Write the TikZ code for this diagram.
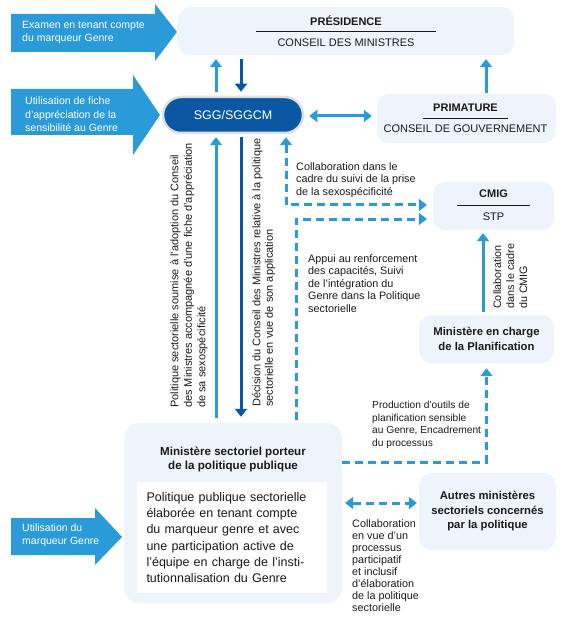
\documentclass[tikz,border=0pt]{standalone}
\usepackage{fontspec}
\setmainfont{Liberation Sans}
\usetikzlibrary{arrows.meta,calc}

\definecolor{lightblue}{HTML}{2A9BD8}
\definecolor{darkblue}{HTML}{0B57A4}
\definecolor{boxfill}{HTML}{EDF4FC}
\definecolor{txt}{HTML}{1A1A1A}

\tikzset{
    box/.style={fill=boxfill, rounded corners=12pt, minimum width=#1, inner sep=0pt},
    head/.style={font=\fontsize{11}{13}\selectfont\bfseries, text=txt, align=center},
    title/.style={font=\fontsize{11.3}{14.5}\selectfont\bfseries, text=txt, align=center},
    plain/.style={font=\fontsize{11}{13}\selectfont, text=txt, align=center},
    lbl/.style={font=\fontsize{10.8}{12.6}\selectfont, text=txt, align=left, inner sep=0pt, anchor=north west},
    big/.style={fill=lightblue},
    bigtxt/.style={font=\fontsize{10.5}{13.5}\selectfont, text=white, align=left, inner sep=0pt, anchor=west},
    tip/.tip={Triangle[width=12pt,length=8pt]},
    flow/.style={-tip, line width=3pt, lightblue},
    down/.style={-tip, line width=3pt, darkblue},
    dashline/.style={line width=3pt, lightblue, dash pattern=on 8pt off 5pt},
}

\newcommand{\jline}[1]{\makebox[171pt][s]{#1}}

\begin{document}
\begin{tikzpicture}[x=1pt,y=-1pt]
    \useasboundingbox (0,0) rectangle (563,628);

    % big arrows on the left
    \fill[big] (11,14) -- (155,14) -- (155,4) -- (177,32) -- (155,61) -- (155,52) -- (11,52) -- cycle;
    \node[bigtxt] (exam) at (22,32.5) {Examen en tenant compte\\du marqueur Genre};
    \fill[big] (11,89) -- (133,89) -- (133,75) -- (160,115) -- (133,155) -- (133,135) -- (11,135) -- cycle;
    \node[bigtxt] (fiche) at (25,114.5) {Utilisation de fiche\\d'appréciation de la\\sensibilité au Genre};
    \fill[big] (11,518) -- (95,518) -- (95,508) -- (122,537) -- (95,565) -- (95,555) -- (11,555) -- cycle;
    \node[bigtxt] (marq) at (22,535.5) {Utilisation du\\marqueur Genre};

    % boxes
    \node[box=336pt, minimum height=48pt] (pres) at (346,31) {};
    \node[head] at (346,21) {PRÉSIDENCE};
    \draw[txt, line width=0.6pt] (256,31) -- (436,31);
    \node[plain] at (346,43) {CONSEIL DES MINISTRES};

    \node[fill=darkblue, draw=black!12, line width=2.5pt, rounded corners=18pt,
          minimum width=140pt, minimum height=36pt, font=\fontsize{12.5}{13}\selectfont,
          text=white] (sgg) at (233,115) {SGG/SGGCM};

    \node[box=179pt, minimum height=49pt] (prim) at (466.5,118.5) {};
    \node[head] at (465.5,108) {PRIMATURE};
    \draw[txt, line width=0.6pt] (423,118) -- (508,118);
    \node[plain] at (465.5,129) {CONSEIL DE GOUVERNEMENT};

    \node[box=121pt, minimum height=48pt] (cmig) at (493.5,206) {};
    \node[head] at (493.5,194) {CMIG};
    \draw[txt, line width=0.6pt] (457,205) -- (530,205);
    \node[plain] at (493.5,217) {STP};

    \node[box=135pt, minimum height=48pt, title] (plan) at (486.5,339)
        {Ministère en charge\\de la Planification};

    \node[box=218pt, minimum height=180pt, rounded corners=15pt] (mini) at (233,513) {};
    \node[title, font=\fontsize{11.6}{14}\selectfont\bfseries] at (233,459) {Ministère sectoriel porteur\\de la politique publique};
    \node[fill=white, minimum width=190pt, minimum height=111pt, text width=171pt,
          align=left, font=\fontsize{12.5}{16.1}\selectfont, text=txt, inner sep=0pt] (pol) at (232,537.5)
        {\jline{Politique publique sectorielle}\\\jline{élaborée en tenant compte}\\
         \jline{du marqueur genre et avec}\\\jline{une participation active de}\\
         \jline{l’équipe en charge de l’insti-}\\tutionnalisation du Genre};

    \node[box=137pt, minimum height=77pt, title] (autres) at (487.5,511.5)
        {Autres ministères\\sectoriels concernés\\par la politique};

    % connectors
    \draw[flow, shorten <=4pt, shorten >=4pt] ([xshift=-17pt]sgg.north) -- ([xshift=-17pt]sgg.north |- pres.south);
    \draw[down, shorten <=4pt, shorten >=4pt] ([xshift=8pt]sgg.north |- pres.south) -- ([xshift=8pt]sgg.north);
    \draw[flow, tip-tip, shorten <=5pt, shorten >=5pt]
        ([yshift=-1pt]sgg.east) -- ([yshift=-1pt]sgg.east -| prim.west);
    \draw[flow, shorten <=1pt, shorten >=4pt] ([xshift=19.5pt]prim.north) -- ([xshift=19.5pt]prim.north |- pres.south);

    \draw[flow, shorten <=5pt, shorten >=3pt] ([xshift=-17pt]sgg.south |- mini.north) -- ([xshift=-17pt]sgg.south);
    \draw[down, shorten <=3pt, shorten >=6pt] ([xshift=8pt]sgg.south) -- ([xshift=8pt]sgg.south |- mini.north);

    \draw[dashline, tip-tip, shorten <=3pt, shorten >=6pt]
        ([xshift=53pt]sgg.south) |- ([yshift=1pt]cmig.west);
    \draw[dashline, -tip, shorten <=3pt, shorten >=6pt]
        ([xshift=63pt]mini.north) |- ([yshift=-13pt]cmig.west);
    \draw[flow, shorten <=3pt, shorten >=3pt] ([xshift=-3.5pt]plan.north) -- ([xshift=-3.5pt]plan.north |- cmig.south);
    \draw[dashline, -tip, shorten >=5pt]
        ([yshift=51pt]mini.east) -| (plan.south);
    \draw[dashline, tip-tip, shorten <=3pt, shorten >=2pt]
        ([yshift=10pt]mini.east) -- ([yshift=10pt]mini.east -| autres.west);

    % labels
    \node[lbl, rotate=90, font=\fontsize{11}{13.5}\selectfont] (soumise) at (170,408) {Politique sectorielle soumise à l’adoption du Conseil\\des Ministres accompagnée d’une fiche d’appréciation\\de sa sexospécificité};
    \node[lbl, rotate=90, font=\fontsize{11}{12.6}\selectfont] (decision) at (252,407) {Décision du Conseil des Ministres relative à la politique\\sectorielle en vue de son application};
    \node[lbl] (suivi) at (296,162) {Collaboration dans le\\cadre du suivi de la prise\\de la sexospécificité};
    \node[lbl] (appui) at (308,254) {Appui au renforcement\\des capacités, Suivi\\de l’intégration du\\Genre dans la Politique\\sectorielle};
    \node[lbl, rotate=90, font=\fontsize{10.8}{13}\selectfont] (cadre) at (493,309) {Collaboration\\dans le cadre\\du CMIG};
    \node[lbl, font=\fontsize{10.2}{12.7}\selectfont] (outils) at (372,401) {Production d’outils de\\planification sensible\\au Genre, Encadrement\\du processus};
    \node[lbl, font=\fontsize{10.8}{12.1}\selectfont] (particip) at (352,519) {Collaboration\\en vue d’un\\processus\\participatif\\et inclusif\\d’élaboration\\de la politique\\sectorielle};
\end{tikzpicture}
\end{document}
